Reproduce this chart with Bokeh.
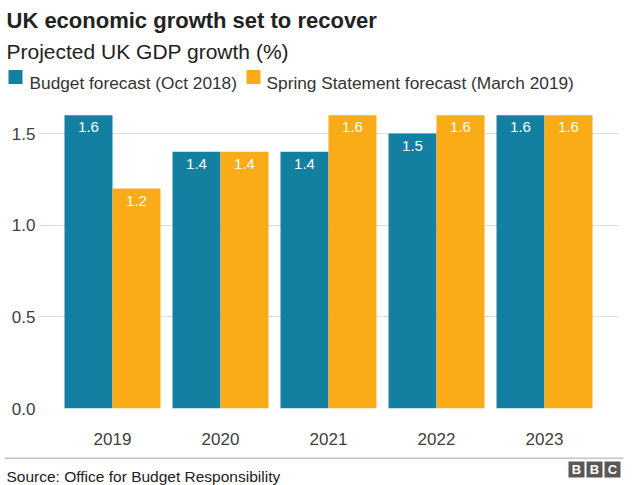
from bokeh.plotting import figure
from bokeh.layouts import column
from bokeh.models import (FactorRange, Range1d, FixedTicker, Label,
                          BoxAnnotation, ColumnDataSource, PrintfTickFormatter)
from bokeh.transform import dodge
from bokeh.core.properties import value
from bokeh.embed import file_html
from bokeh.resources import INLINE

# ---- data ----
years = ["2019", "2020", "2021", "2022", "2023"]
budget_oct2018 = [1.6, 1.4, 1.4, 1.5, 1.6]
spring_mar2019 = [1.2, 1.4, 1.6, 1.6, 1.6]
y_ticks = [0.0, 0.5, 1.0, 1.5]
series_names = ["Budget forecast (Oct 2018)", "Spring Statement forecast (March 2019)"]
title_text = "UK economic growth set to recover"
subtitle_text = "Projected UK GDP growth (%)"
source_text = "Source: Office for Budget Responsibility"
logo_letters = ["B", "B", "C"]

BLUE = "#1380A1"
ORANGE = "#FAAB18"
FONT = "Liberation Sans"
TXT = "#222222"
W = 640


def bare_fig(h):
    f = figure(width=W, height=h, x_range=Range1d(0, 1), y_range=Range1d(0, 1),
               x_axis_type=None, y_axis_type=None, output_backend="svg",
               toolbar_location=None, min_border=0)
    f.outline_line_color = None
    f.xgrid.visible = False
    f.ygrid.visible = False
    f.frame_align = False
    return f


def sbox(fig, l, r, t, b, color):
    fig.add_layout(BoxAnnotation(left=l, right=r, top=t, bottom=b,
                                 left_units="screen", right_units="screen",
                                 top_units="screen", bottom_units="screen",
                                 fill_color=color, fill_alpha=1, line_color=None))


# ---- main chart ----
src = ColumnDataSource(dict(
    year=years,
    budget=budget_oct2018,
    spring=spring_mar2019,
    budget_lbl=[f"{v:.1f}" for v in budget_oct2018],
    spring_lbl=[f"{v:.1f}" for v in spring_mar2019],
))

p = figure(
    width=W, height=350,
    x_range=FactorRange(factors=years, range_padding=0.185, range_padding_units="absolute"),
    y_range=Range1d(0, 1.680),
    output_backend="svg", toolbar_location=None,
    min_border_left=38, min_border_right=22, min_border_top=0, min_border_bottom=42,
)
p.outline_line_color = None
p.frame_align = False

bw = 0.4444
off = 0.2222
r1 = p.vbar(x=dodge("year", -off, range=p.x_range), top="budget", width=bw, bottom=0,
            source=src, fill_color=BLUE, line_color=None)
r2 = p.vbar(x=dodge("year", off, range=p.x_range), top="spring", width=bw, bottom=0,
            source=src, fill_color=ORANGE, line_color=None)

p.text(x=dodge("year", -off, range=p.x_range), y="budget", text="budget_lbl", source=src,
       y_offset=12, text_align="center", text_baseline="alphabetic",
       text_color="white", text_font_size="15px", text_font=value(FONT))
p.text(x=dodge("year", off, range=p.x_range), y="spring", text="spring_lbl", source=src,
       y_offset=12, text_align="center", text_baseline="alphabetic",
       text_color="white", text_font_size="15px", text_font=value(FONT))

p.xgrid.grid_line_color = None
p.ygrid.grid_line_color = "#dddddd"
p.ygrid.ticker = FixedTicker(ticks=y_ticks)
p.yaxis.ticker = FixedTicker(ticks=y_ticks)
p.yaxis.formatter = PrintfTickFormatter(format="%.1f")
for ax in (p.xaxis[0], p.yaxis[0]):
    ax.axis_line_color = None
    ax.major_tick_line_color = None
    ax.minor_tick_line_color = None
    ax.major_tick_out = 0
    ax.major_tick_in = 0
    ax.major_label_text_font = FONT
    ax.major_label_text_font_size = "17px"
    ax.major_label_text_color = "#404040"
p.yaxis.major_label_standoff = 3
p.xaxis.major_label_standoff = 24

# ---- header: title, subtitle, legend (header canvas is 100px tall) ----
head = bare_fig(100)
head.add_layout(Label(x=6, y=80, x_units="screen", y_units="screen", text=title_text,
                      text_font=FONT, text_font_size="22px", text_font_style="bold",
                      text_color=TXT, text_baseline="alphabetic"))
head.add_layout(Label(x=6, y=49, x_units="screen", y_units="screen", text=subtitle_text,
                      text_font=FONT, text_font_size="21px",
                      text_color=TXT, text_baseline="alphabetic"))
legend_pos = [(8, 29), (246, 266)]   # (swatch left, label left) in px
for (sx, tx), name, col in zip(legend_pos, series_names, [BLUE, ORANGE]):
    sbox(head, sx, sx + 14, 30.5, 16.5, col)
    head.add_layout(Label(x=tx, y=18, x_units="screen", y_units="screen", text=name,
                          text_font=FONT, text_font_size="17.3px",
                          text_color="#333333", text_baseline="alphabetic"))

# ---- footer: source and logo (footer canvas is 35px tall) ----
foot = bare_fig(35)
sbox(foot, 4, 623, 28, 26.5, "#c4c4c4")
foot.add_layout(Label(x=6, y=9, x_units="screen", y_units="screen", text=source_text,
                      text_font=FONT, text_font_size="15.5px",
                      text_color=TXT, text_baseline="alphabetic"))
for i, letter in enumerate(logo_letters):
    l = 568 + i * 18
    sbox(foot, l, l + 16, 24, 8, "#585858")
    foot.add_layout(Label(x=l + 8, y=16, x_units="screen", y_units="screen", text=letter,
                          text_font=FONT, text_font_size="13px", text_font_style="bold",
                          text_color="white", text_align="center", text_baseline="middle"))

layout = column(head, p, foot, spacing=0)
open("out.html", "w").write(file_html(layout, INLINE))
